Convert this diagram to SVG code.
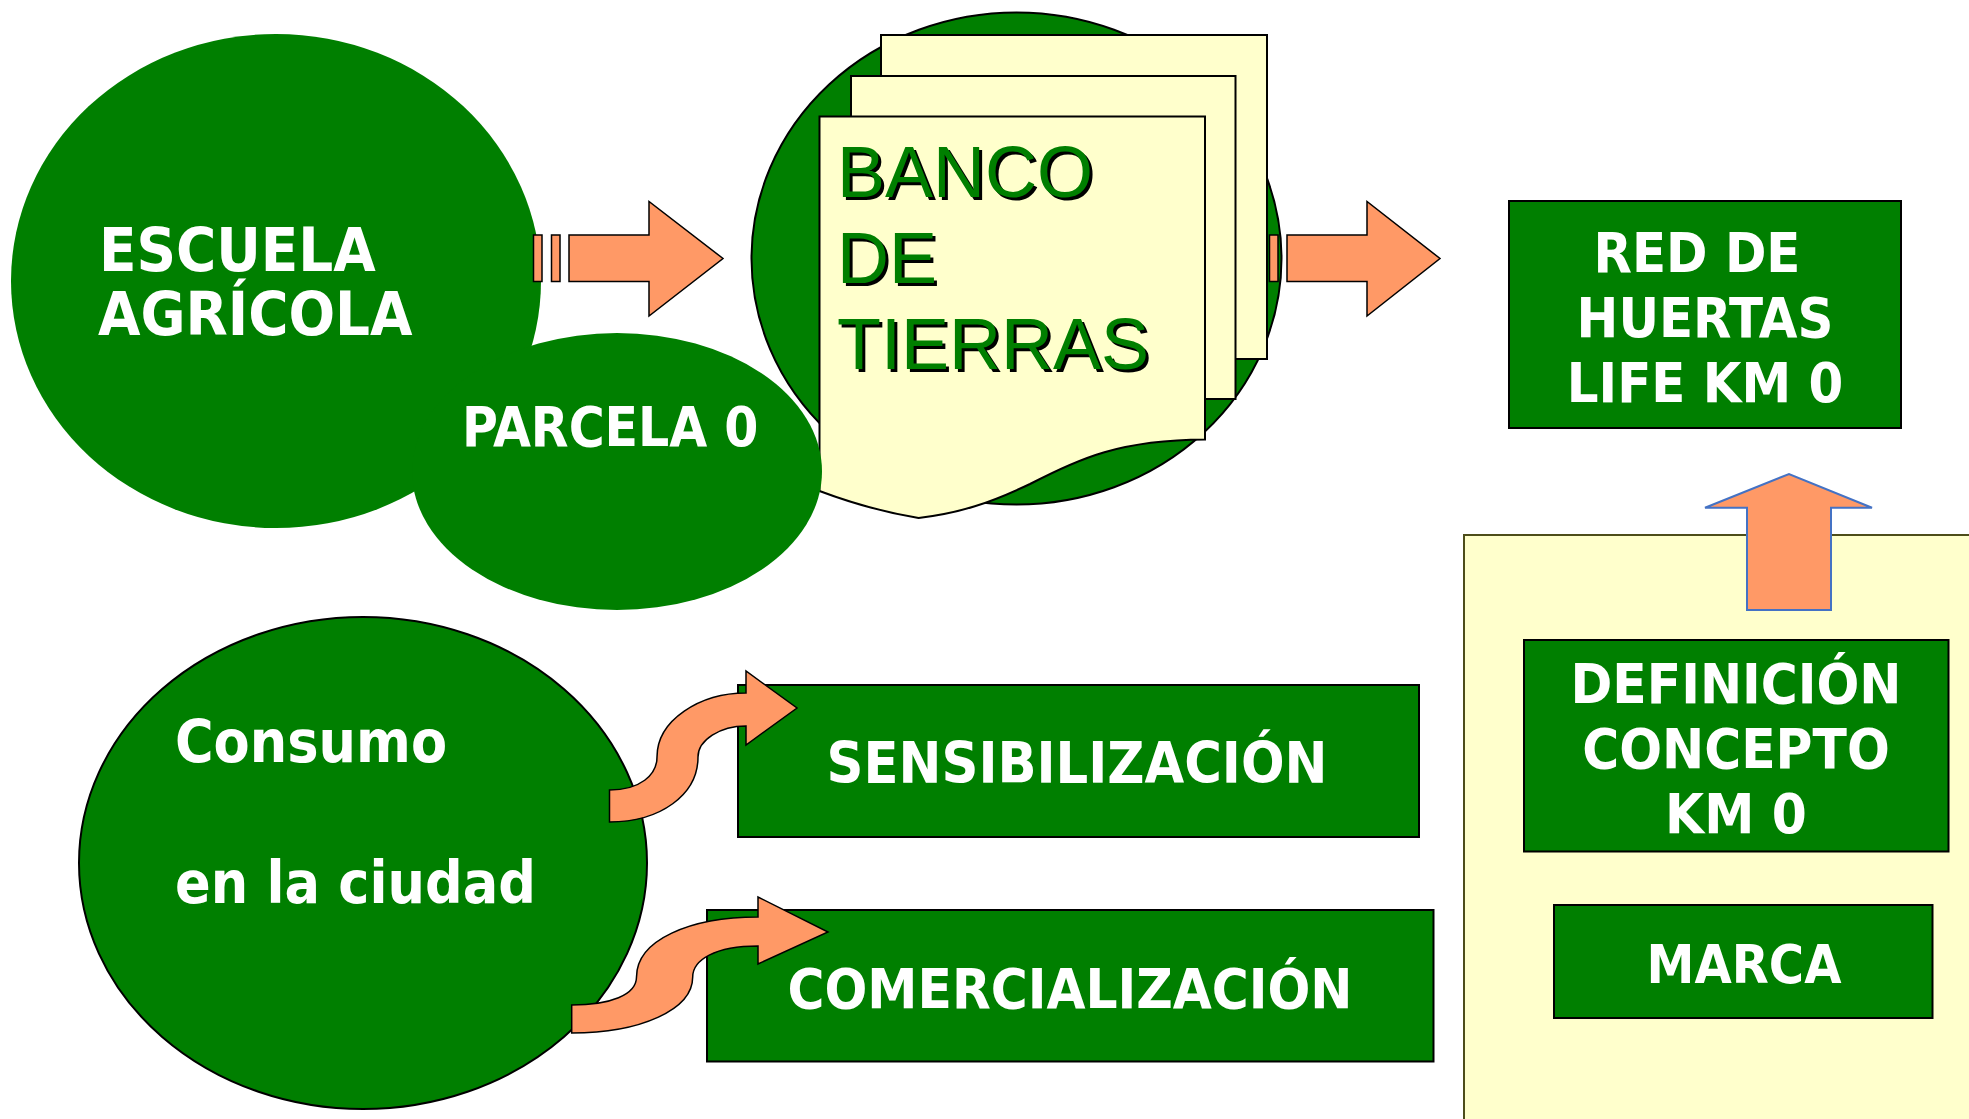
<svg xmlns="http://www.w3.org/2000/svg" width="1969" height="1119" viewBox="0 0 1969 1119">
<style>
.g{fill:#007f00}
.gs{fill:#007f00;stroke:#000;stroke-width:2}
.paper{fill:#ffffcc;stroke:#000;stroke-width:2}
.arr{fill:#ff9966;stroke:#000;stroke-width:1.5;stroke-linejoin:miter}
.w{fill:#fff;font-family:'DejaVu Sans Condensed','DejaVu Sans',sans-serif;font-stretch:condensed;font-weight:bold}
.bt{font-family:'Liberation Sans',Arial,sans-serif;font-size:72px}
</style>
<rect width="1969" height="1119" fill="#fff"/>
<g id="panel-km0">
<rect x="1464" y="535" width="520" height="600" fill="#ffffcc" stroke="#4d4d1a" stroke-width="2"/>
</g>
<g id="escuela-agricola">
<ellipse class="g" cx="276" cy="281" rx="265" ry="247"/>
<text class="w" font-size="61"><tspan x="99" y="271">ESCUELA</tspan><tspan x="98" y="335">AGRÍCOLA</tspan></text>
</g>
<g id="banco-de-tierras">
<ellipse class="gs" cx="1016.5" cy="258.5" rx="265" ry="246"/>
<rect class="paper" x="881" y="35" width="386" height="324"/>
<rect class="paper" x="851" y="76" width="384.5" height="323"/>
<path class="paper" d="M819.5,116.5 L1205,116.5 L1205,439.5 C1120,440 1080,458 1030,484 C990,503 960,513 918.6,518 Q870,510 819.5,491 Z"/>
<text class="bt" fill="#000"><tspan x="840" y="200">BANCO</tspan><tspan x="840" y="286">DE</tspan><tspan x="840" y="372">TIERRAS</tspan></text>
<text class="bt" fill="#007f00"><tspan x="837" y="197">BANCO</tspan><tspan x="837" y="283">DE</tspan><tspan x="837" y="369">TIERRAS</tspan></text>
</g>
<g id="parcela-0">
<ellipse class="g" cx="617" cy="471.5" rx="205" ry="138.5"/>
<text class="w" font-size="54.5" x="462" y="446">PARCELA 0</text>
</g>
<g id="red-huertas">
<rect class="gs" x="1509" y="201" width="392" height="227"/>
<text class="w" font-size="55.5" text-anchor="middle"><tspan x="1697" y="272">RED DE</tspan><tspan x="1705" y="337">HUERTAS</tspan><tspan x="1705" y="402">LIFE KM 0</tspan></text>
</g>
<g id="consumo">
<ellipse class="gs" cx="363" cy="863" rx="284" ry="246" stroke-width="1.5"/>
<text class="w" font-size="58.5"><tspan x="175" y="762">Consumo</tspan><tspan x="175" y="903">en la ciudad</tspan></text>
</g>
<g id="sensibilizacion">
<rect class="gs" x="738" y="685" width="681" height="152"/>
<text class="w" font-size="57" text-anchor="middle" x="1077" y="783">SENSIBILIZACIÓN</text>
</g>
<g id="comercializacion">
<rect class="gs" x="707" y="910" width="726.5" height="151.5"/>
<text class="w" font-size="56" text-anchor="middle" x="1070" y="1008">COMERCIALIZACIÓN</text>
</g>
<g id="definicion">
<rect class="gs" x="1524" y="640" width="424.5" height="211.5"/>
<text class="w" font-size="56" text-anchor="middle"><tspan x="1736" y="703">DEFINICIÓN</tspan><tspan x="1736" y="768">CONCEPTO</tspan><tspan x="1736" y="833">KM 0</tspan></text>
</g>
<g id="marca">
<rect class="gs" x="1554" y="905" width="378.5" height="113"/>
<text class="w" font-size="53.5" text-anchor="middle" x="1744" y="983">MARCA</text>
</g>
<g id="connectors">
<rect class="arr" x="533.5" y="235" width="8.5" height="46.5"/>
<rect class="arr" x="551.5" y="235" width="8.5" height="46.5"/>
<path class="arr" d="M569,235 L649,235 L649,201.5 L723,258.5 L649,316 L649,281.5 L569,281.5 Z"/>
<rect class="arr" x="1269.5" y="235" width="8.5" height="46.5"/>
<path class="arr" d="M1287,235 L1367,235 L1367,201.5 L1440,258.5 L1367,316 L1367,281.5 L1287,281.5 Z"/>
<path d="M1747,610 L1747,507.7 L1705,507.7 L1789,474 L1872,507.7 L1831,507.7 L1831,610 Z" fill="#ff9966" stroke="#4472c4" stroke-width="2"/>
<path class="arr" d="M609.5,790 C640,790 657,775 657,757 C657,720 700,693 746,693 L746,671 L797,708 L746,745 L746,726 C720,726 698,740 698,757 C698,795 660,822 609.5,822 Z"/>
<path class="arr" d="M571.7,1005 C610,1005 636.5,995 636.5,977 C636.5,940 690,917 758,917 L758,897 L828,932 L758,964 L758,946 C715,946 692.7,960 692.7,977 C692.7,1010 640,1033 571.7,1033 Z"/>
</g>
</svg>
